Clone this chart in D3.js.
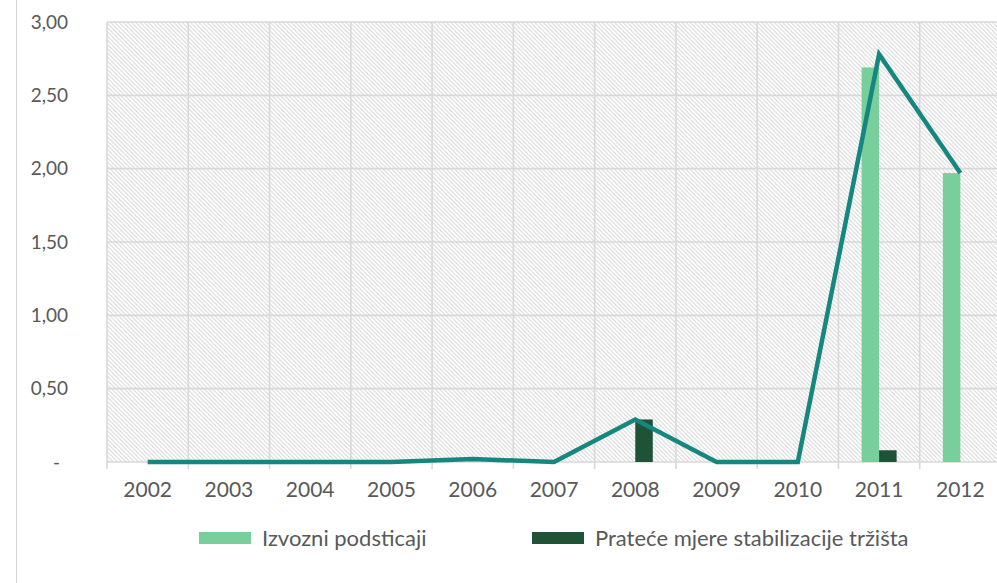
<!DOCTYPE html>
<html>
<head>
<meta charset="utf-8">
<script src="https://cdn.jsdelivr.net/npm/d3@7"></script>
<style>
  html, body { margin: 0; padding: 0; background: #ffffff; }
  svg { display: block; }
  text { font-family: Lato, "Open Sans", sans-serif; fill: #595959; }
</style>
</head>
<body>
<svg id="chart" width="997" height="583"></svg>
<script>
// ---- data ----
const years = ["2002","2003","2004","2005","2006","2007","2008","2009","2010","2011","2012"];
const izvozniPodsticaji = [0, 0, 0, 0, 0, 0, 0, 0, 0, 2.69, 1.97];
const prateceMjere      = [0, 0, 0, 0, 0, 0, 0.29, 0, 0, 0.08, 0];
const ukupno            = [0, 0, 0, 0, 0.02, 0, 0.29, 0, 0, 2.78, 1.97];
const yTicks = [0, 0.5, 1, 1.5, 2, 2.5, 3];
const seriesNames = ["Izvozni podsticaji", "Prateće mjere stabilizacije tržišta"];

// ---- layout ----
const W = 997, H = 583;
const m = { left: 107, top: 22, right: -4, bottom: 121 };
const svg = d3.select("#chart");
const colors = ["#78cf9b", "#1e5337"];
const lineColor = "#16877f";

const x = d3.scaleBand().domain(years).range([m.left, W - m.right]).padding(0);
const y = d3.scaleLinear().domain([0, 3]).range([H - m.bottom, m.top]);
const groupW = 35;
const xs = d3.scaleBand().domain([0, 1]).range([-groupW / 2, groupW / 2]).padding(0);

// hatch pattern
const defs = svg.append("defs");
const pat = defs.append("pattern").attr("id", "hatch")
  .attr("patternUnits", "userSpaceOnUse").attr("width", 4.2).attr("height", 4.2);
pat.append("rect").attr("width", 4.2).attr("height", 4.2).attr("fill", "#ffffff");
pat.append("path").attr("d", "M0,0 L4.2,4.2 M-1,3.2 L1,5.2 M3.2,-1 L5.2,1")
  .attr("stroke", "#d2d2d2").attr("stroke-width", 0.9);

// chart frame left border
svg.append("line").attr("x1", 16.5).attr("x2", 16.5).attr("y1", 0).attr("y2", H)
  .attr("stroke", "#d4d4d4").attr("stroke-width", 1);

// plot area background
svg.append("rect").attr("x", m.left).attr("y", m.top)
  .attr("width", W - m.right - m.left).attr("height", y(0) - m.top)
  .attr("fill", "url(#hatch)");

// horizontal gridlines
svg.append("g").selectAll("line").data(yTicks).join("line")
  .attr("x1", m.left).attr("x2", W - m.right)
  .attr("y1", d => y(d)).attr("y2", d => y(d))
  .attr("stroke", "#d9d9d9").attr("stroke-width", 1.6);

// vertical gridlines at category boundaries (extend below axis as ticks)
const bounds = years.map(d => x(d)).concat([x(years[years.length - 1]) + x.bandwidth()]);
svg.append("g").selectAll("line").data(bounds).join("line")
  .attr("x1", d => d).attr("x2", d => d)
  .attr("y1", m.top).attr("y2", y(0) + 7)
  .attr("stroke", "#d9d9d9").attr("stroke-width", 1.6);

// y axis labels
const yAxis = d3.axisLeft(y).tickValues(yTicks).tickSize(0).tickPadding(0)
  .tickFormat(d => d === 0 ? "-" : d3.format(".2f")(d).replace(".", ","));
const gy = svg.append("g").attr("transform", `translate(68,0)`).call(yAxis);
gy.select(".domain").remove();
gy.selectAll("text").style("font-size", "19px").attr("fill", "#595959")
  .attr("dx", d => d === 0 ? -8 : 0);

// x axis labels
const xAxis = d3.axisBottom(x).tickSize(0).tickPadding(0);
const gx = svg.append("g").attr("transform", `translate(0,${y(0)})`).call(xAxis);
gx.select(".domain").remove();
gx.selectAll("text").style("font-size", "21px").attr("fill", "#595959").attr("dy", "1.3em")
  .attr("y", 8);

// bars
const seriesData = [izvozniPodsticaji, prateceMjere];
seriesData.forEach((vals, si) => {
  svg.append("g").selectAll("rect").data(years.map((yr, i) => ({ yr, v: vals[i] })))
    .join("rect")
    .attr("x", d => x(d.yr) + x.bandwidth() / 2 + xs(si))
    .attr("width", xs.bandwidth())
    .attr("y", d => y(d.v))
    .attr("height", d => y(0) - y(d.v))
    .attr("fill", colors[si]);
});

// line
const line = d3.line()
  .x((d, i) => x(years[i]) + x.bandwidth() / 2)
  .y(d => y(d));
svg.append("path").datum(ukupno)
  .attr("d", line).attr("fill", "none")
  .attr("stroke", lineColor).attr("stroke-width", 4.5).attr("stroke-linejoin", "miter");

// legend
const legend = svg.append("g");
const legendX = [199, 532];
seriesNames.forEach((name, i) => {
  legend.append("rect").attr("x", legendX[i]).attr("y", 532)
    .attr("width", 52).attr("height", 12).attr("fill", colors[i]);
  legend.append("text").attr("x", legendX[i] + 63).attr("y", 538)
    .attr("dy", "0.35em").style("font-size", "22px").attr("fill", "#595959")
    .text(name);
});
</script>
</body>
</html>
